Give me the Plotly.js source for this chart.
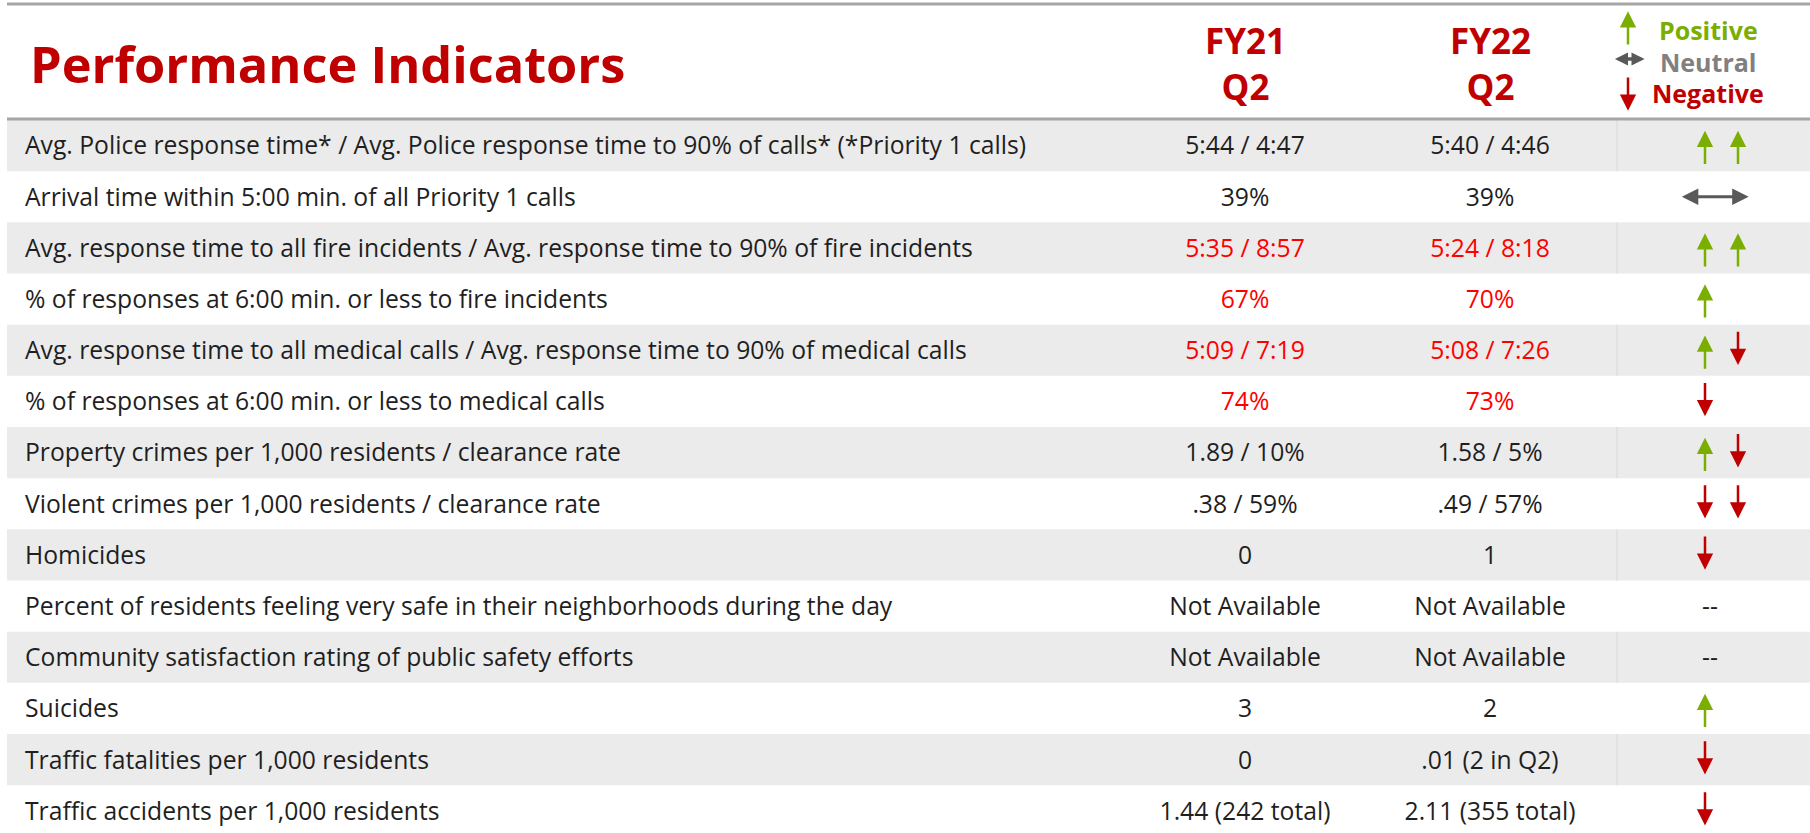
<!DOCTYPE html>
<html>
<head>
<meta charset="utf-8">
<script src="https://cdn.plot.ly/plotly-3.0.1.min.js"></script>
<style>
  html, body { margin: 0; padding: 0; background: #ffffff; }
  #chart { width: 1810px; height: 833px; }
</style>
</head>
<body>
<div id="chart"></div>
<script>
// ---------------- data ----------------
const indicators = [
  "Avg. Police response time* / Avg. Police response time to 90% of calls* (*Priority 1 calls)",
  "Arrival time within 5:00 min. of all Priority 1 calls",
  "Avg. response time to all fire incidents / Avg. response time to 90% of fire incidents",
  "% of responses at 6:00 min. or less to fire incidents",
  "Avg. response time to all medical calls / Avg. response time to 90% of medical calls",
  "% of responses at 6:00 min. or less to medical calls",
  "Property crimes per 1,000 residents / clearance rate",
  "Violent crimes per 1,000 residents / clearance rate",
  "Homicides",
  "Percent of residents feeling very safe in their neighborhoods during the day",
  "Community satisfaction rating of public safety efforts",
  "Suicides",
  "Traffic fatalities per 1,000 residents",
  "Traffic accidents per 1,000 residents"
];
const fy21Q2 = ["5:44 / 4:47", "39%", "5:35 / 8:57", "67%", "5:09 / 7:19", "74%", "1.89 / 10%",
                ".38 / 59%", "0", "Not Available", "Not Available", "3", "0", "1.44 (242 total)"];
const fy22Q2 = ["5:40 / 4:46", "39%", "5:24 / 8:18", "70%", "5:08 / 7:26", "73%", "1.58 / 5%",
                ".49 / 57%", "1", "Not Available", "Not Available", "2", ".01 (2 in Q2)", "2.11 (355 total)"];
// rows whose values are shown in red in the source
const valueAlert = [false, false, true, true, true, true, false, false, false, false, false, false, false, false];
// trend per indicator: up = positive, down = negative, both = neutral, none = not rated
const trends = [["up","up"], ["both"], ["up","up"], ["up"], ["up","down"], ["down"], ["up","down"],
                ["down","down"], ["down"], ["none"], ["none"], ["up"], ["down"], ["down"]];
const columnHeads = ["FY21<br>Q2", "FY22<br>Q2"];
const legendItems = ["Positive", "Neutral", "Negative"];

// ---------------- layout geometry ----------------
const W = 1810, H = 833;
const TOP = 120;            // px where the first row starts
const R = 51.17;            // px per row
const py = p => (p - TOP) / R;   // pixel -> row units
const FONT = "'Open Sans', Lato, sans-serif";
const FS = 24.7;
const RED = "#c00000", GREEN = "#7aae00", GREY = "#595959", ALERT = "#ff0000", INK = "#1f1f1f";
const COL_LABEL = 25, COL_21 = 1245, COL_22 = 1490, COL_TREND = 1705, COL_TREND2 = 1738;
const textShift = (0.11 * FS) / R;   // align cap-centre with row centre

const rows = indicators.map((_, i) => i);
const rowMid = rows.map(i => i + 0.5 + textShift);
const unrated = rows.filter(i => trends[i][0] === "none");

const traces = [
  { type: "scatter", mode: "text", x: rows.map(() => COL_LABEL), y: rowMid, text: indicators,
    textposition: "middle right", textfont: { family: FONT, size: FS, color: INK }, hoverinfo: "skip", cliponaxis: false },
  { type: "scatter", mode: "text", x: rows.map(() => COL_21), y: rowMid, text: fy21Q2,
    textposition: "middle center", textfont: { family: FONT, size: FS, color: valueAlert.map(a => a ? ALERT : INK) },
    hoverinfo: "skip", cliponaxis: false },
  { type: "scatter", mode: "text", x: rows.map(() => COL_22), y: rowMid, text: fy22Q2,
    textposition: "middle center", textfont: { family: FONT, size: FS, color: valueAlert.map(a => a ? ALERT : INK) },
    hoverinfo: "skip", cliponaxis: false },
  { type: "scatter", mode: "text",
    x: unrated.map(() => COL_TREND + 5), y: unrated.map(i => rowMid[i]), text: unrated.map(() => "--"),
    textposition: "middle center", textfont: { family: FONT, size: FS, color: INK }, hoverinfo: "skip", cliponaxis: false }
];

// ---------------- shapes ----------------
const shapes = [];
rows.forEach(i => {
  if (i % 2 === 0) {
    shapes.push({ type: "rect", xref: "x", yref: "y", x0: 7, x1: W, y0: i, y1: i + 1,
                  fillcolor: "#ebebeb", line: { width: 0 }, layer: "below" });
    shapes.push({ type: "line", xref: "x", yref: "y", x0: 1617, x1: 1617, y0: i, y1: i + 1,
                  line: { color: "#d8d8d8", width: 1 }, layer: "below" });
  }
});
shapes.push({ type: "line", xref: "x", yref: "y", x0: 7, x1: W, y0: py(4), y1: py(4), line: { color: "#a6a6a6", width: 3 } });
shapes.push({ type: "line", xref: "x", yref: "y", x0: 7, x1: W, y0: py(119), y1: py(119), line: { color: "#a6a6a6", width: 3 } });

// ---------------- annotations ----------------
const ann = [];
const HALF = 19;     // half arrow length px
const OVER = 4.2;    // arrow-head overshoot px
const tiny = { size: 1, color: "rgba(0,0,0,0)" };
function vArrow(x, midPx, dir, color, width, size) {
  const tip = dir === "up" ? midPx - HALF + OVER : midPx + HALF - OVER;
  const tail = dir === "up" ? midPx + HALF : midPx - HALF;
  ann.push({ x: x, y: py(tip), ax: x, ay: py(tail), xref: "x", yref: "y", axref: "x", ayref: "y",
             text: "", font: tiny, borderpad: 0, showarrow: true, arrowhead: 2, arrowsize: size, arrowwidth: width,
             arrowcolor: color, standoff: 0, startstandoff: 0 });
}
function hArrow(x0, x1, midPx, color, width, size, over) {
  ann.push({ x: x1 - over, y: py(midPx), ax: x0 + over, ay: py(midPx), xref: "x", yref: "y", axref: "x", ayref: "y",
             text: "", font: tiny, borderpad: 0, showarrow: true, arrowside: "end+start", arrowhead: 2, startarrowhead: 2,
             arrowsize: size, startarrowsize: size, arrowwidth: width, arrowcolor: color, standoff: 0, startstandoff: 0 });
}
rows.forEach(i => {
  const mid = TOP + (i + 0.5) * R;
  const t = trends[i];
  if (t[0] === "both") { hArrow(1677, 1753, mid, GREY, 3, 1.1, 4.3); return; }
  if (t[0] === "none") return;
  t.forEach((d, k) => {
    const x = k === 0 ? COL_TREND : COL_TREND2;
    vArrow(x, mid, d, d === "up" ? GREEN : RED, 2.5, 1.3);
  });
});

// header
ann.push({ x: 28, y: py(63), xref: "x", yref: "y", text: "<b>Performance Indicators</b>", showarrow: false,
           xanchor: "left", yanchor: "middle", font: { family: FONT, size: 50.5, color: RED } });
[COL_21, COL_22].forEach((cx, k) => {
  ann.push({ x: cx, y: py(63), xref: "x", yref: "y", text: "<b>" + columnHeads[k] + "</b>", showarrow: false,
             xanchor: "center", yanchor: "middle", align: "center", font: { family: FONT, size: 35, color: RED } });
});
const legendColors = [GREEN, "#808080", RED];
const legendY = [30, 62, 93];
legendItems.forEach((t, k) => {
  ann.push({ x: 1708, y: py(legendY[k]), xref: "x", yref: "y", text: "<b>" + t + "</b>", showarrow: false,
             xanchor: "center", yanchor: "middle", font: { family: FONT, size: 25, color: legendColors[k] } });
});
// legend arrows: up 7..45, down 77..115, double 1611..1648 at 59
vArrow(1628, 26, "up", GREEN, 2.5, 1.3);
vArrow(1628, 96, "down", RED, 2.5, 1.3);
hArrow(1611, 1648, 59, GREY, 3.5, 0.75, 3.4);

const layout = {
  width: W, height: H,
  margin: { l: 0, r: 0, t: 0, b: 0, pad: 0 },
  paper_bgcolor: "#ffffff", plot_bgcolor: "#ffffff",
  showlegend: false,
  xaxis: { range: [0, W], visible: false, fixedrange: true },
  yaxis: { range: [py(H), py(0)], visible: false, fixedrange: true },
  shapes: shapes,
  annotations: ann
};

Plotly.newPlot("chart", traces, layout, { staticPlot: true, displayModeBar: false });
</script>
</body>
</html>
